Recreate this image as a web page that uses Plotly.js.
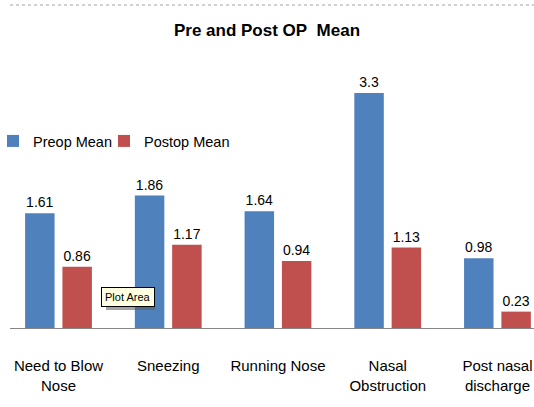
<!DOCTYPE html>
<html>
<head>
<meta charset="utf-8">
<script src="https://cdn.plot.ly/plotly-3.0.1.min.js"></script>
<style>html,body{margin:0;padding:0;background:#fff;}#chart{width:534px;height:407px;}</style>
</head>
<body>
<div id="chart"></div>
<script>
const categories = ["Need to Blow<br>Nose", "Sneezing", "Running Nose", "Nasal<br>Obstruction", "Post nasal<br>discharge"];
const preopMean = [1.61, 1.86, 1.64, 3.3, 0.98];
const postopMean = [0.86, 1.17, 0.94, 1.13, 0.23];
const seriesNames = ["Preop Mean", "Postop Mean"];
const titleText = "Pre and Post OP\u00a0 Mean";

const FONT = "Liberation Sans, Arial, sans-serif";

const traces = [
  {type: 'bar', name: seriesNames[0], x: categories, y: preopMean, legend: 'legend',
   marker: {color: '#4f81bd'}, text: preopMean.map(String), textposition: 'outside',
   textfont: {family: FONT, size: 14, color: '#000'}, cliponaxis: false},
  {type: 'bar', name: seriesNames[1], x: categories, y: postopMean, legend: 'legend2',
   marker: {color: '#c0504d'}, text: postopMean.map(String), textposition: 'outside',
   textfont: {family: FONT, size: 14, color: '#000'}, cliponaxis: false}
];

const legendY = 1 - (141 - 60) / 268;
const legendCommon = {orientation: 'h', y: legendY, yanchor: 'middle', xanchor: 'left',
  font: {family: FONT, size: 14.5, color: '#000'}, itemwidth: 30, bgcolor: 'rgba(0,0,0,0)'};

const layout = {
  width: 534, height: 407,
  margin: {l: 10, r: 0, t: 60, b: 79, autoexpand: false},
  paper_bgcolor: '#fff', plot_bgcolor: '#fff',
  font: {family: FONT, color: '#000'},
  title: {text: '<b>' + titleText + '</b>', font: {family: FONT, size: 17, color: '#000'},
          x: 0.5, xanchor: 'center', y: 0.926, yanchor: 'middle'},
  barmode: 'group', bargap: 0.32, bargroupgap: 0.21,
  showlegend: true,
  legend: Object.assign({}, legendCommon, {x: (-7 - 10) / 524}),
  legend2: Object.assign({}, legendCommon, {x: (104 - 10) / 524}),
  xaxis: {type: 'category', range: [-0.442, 4.333], showline: true, linecolor: '#868686', linewidth: 1,
          ticks: '', showgrid: false, zeroline: false, tickfont: {family: FONT, size: 15, color: '#000'},
          ticklabelstandoff: 24, fixedrange: true},
  yaxis: {range: [0, 268 / 71.2], visible: false, showgrid: false, zeroline: false, fixedrange: true},
  shapes: [
    {type: 'line', xref: 'paper', yref: 'paper', x0: 0, x1: 1, y0: 1 + 55 / 268, y1: 1 + 55 / 268,
     line: {color: '#a0a0a0', width: 1, dash: 'dot'}},
    {type: 'rect', xref: 'paper', yref: 'paper', layer: 'above',
     x0: (106 - 10) / 524, x1: (155 - 10) / 524, y0: (328 - 310) / 268, y1: (328 - 290) / 268,
     fillcolor: 'rgba(90,90,90,0.55)', line: {width: 0}}
  ],
  annotations: [
    {text: 'Plot Area', xref: 'paper', yref: 'paper', x: (127.5 - 10) / 524, y: (328 - 297) / 268,
     xanchor: 'center', yanchor: 'middle', showarrow: false,
     font: {family: FONT, size: 11, color: '#000'},
     bgcolor: '#ffffe1', bordercolor: '#000', borderwidth: 1, borderpad: 3}
  ]
};

Plotly.newPlot('chart', traces, layout, {displayModeBar: false, staticPlot: true});
</script>
</body>
</html>
